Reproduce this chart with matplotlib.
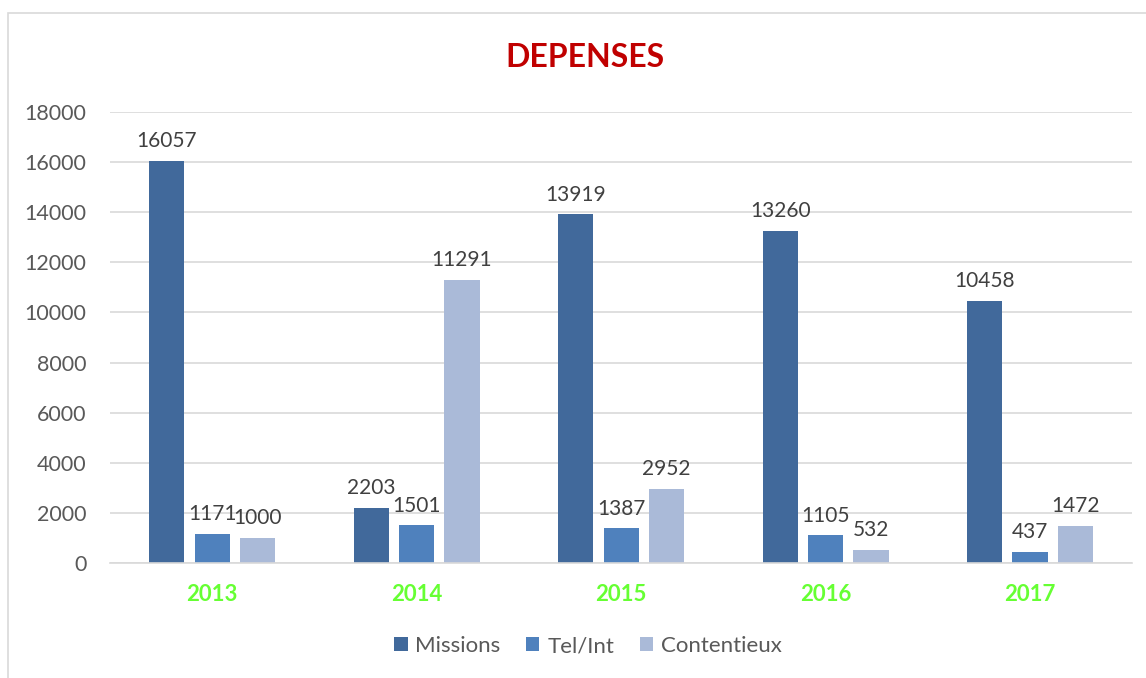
import matplotlib
matplotlib.use("Agg")
import matplotlib.pyplot as plt
import matplotlib.patches as mpatches
import numpy as np

years = ["2013", "2014", "2015", "2016", "2017"]
series_names = ["Missions", "Tel/Int", "Contentieux"]
missions = [16057, 2203, 13919, 13260, 10458]
tel_int = [1171, 1501, 1387, 1105, 437]
contentieux = [1000, 11291, 2952, 532, 1472]
colors = ["#41699B", "#4F81BD", "#AABAD8"]

plt.rcParams['font.family'] = ['Lato', 'DejaVu Sans']

fig = plt.figure(figsize=(11.46, 6.78), dpi=100)
ax = fig.add_axes([0.096, 0.1696, 0.892, 0.6652])

# outer chart border
border = mpatches.Rectangle((8 / 1146, -0.05), 1.2, (678 - 13) / 678 + 0.05,
                            transform=fig.transFigure, fill=False,
                            edgecolor='#D9D9D9', linewidth=1.2)
fig.patches.append(border)

x = np.arange(len(years))
width = 0.172
step = 0.222
for i, (name, vals) in enumerate(zip(series_names, [missions, tel_int, contentieux])):
    pos = x + (i - 1) * step
    bars = ax.bar(pos, vals, width, color=colors[i], label=name, zorder=2)
    for b, v in zip(bars, vals):
        ax.annotate(str(v), (b.get_x() + b.get_width() / 2, v),
                    xytext=(0, 7), textcoords='offset points',
                    ha='center', va='bottom', fontsize=15, color='#404040')

ax.set_ylim(0, 18000)
ax.set_xlim(-0.5, len(years) - 0.5)
ax.set_yticks(range(0, 18001, 2000))
ax.tick_params(axis='y', length=0, labelsize=15.5, labelcolor='#595959', pad=17)
ax.set_xticks(x)
ax.set_xticklabels(years)
for lbl in ax.get_xticklabels():
    lbl.set_fontsize(16)
    lbl.set_fontweight('bold')
    lbl.set_color('#66FF33')
ax.tick_params(axis='x', length=0, pad=15)
ax.grid(axis='y', color='#D9D9D9', linewidth=1.2, zorder=0)
ax.set_axisbelow(True)
for s in ['top', 'right', 'left']:
    ax.spines[s].set_visible(False)
ax.spines['bottom'].set_color('#D9D9D9')
ax.spines['bottom'].set_linewidth(1.2)

fig.text(0.51, 0.915, "DEPENSES", ha='center', va='center', fontsize=23,
         fontweight='bold', color='#C00000')

leg = fig.legend(loc='center', bbox_to_anchor=(0.513, 0.047), ncol=3, frameon=False,
                 fontsize=16, handlelength=0.6, handleheight=0.6, handletextpad=0.35,
                 columnspacing=1.15)
for t in leg.get_texts():
    t.set_color('#595959')

fig.savefig("out.png", dpi=100)
